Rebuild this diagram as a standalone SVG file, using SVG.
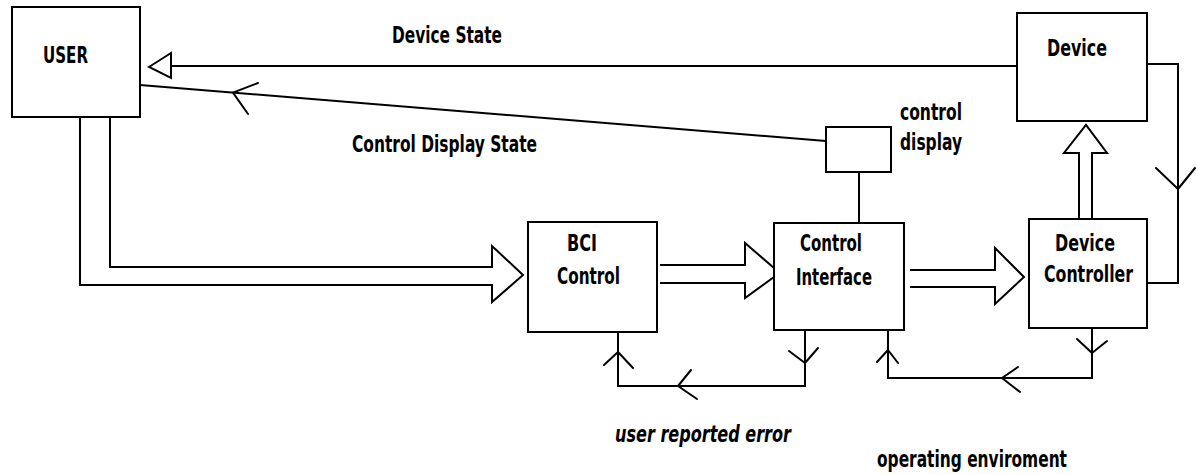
<svg xmlns="http://www.w3.org/2000/svg" width="1196" height="474" viewBox="0 0 1196 474">
<style>
.box{fill:#fff;stroke:#000;stroke-width:2}
.ln{fill:none;stroke:#000;stroke-width:2;stroke-linejoin:miter}
.hd{fill:none;stroke:#000;stroke-width:2;stroke-linecap:round;stroke-linejoin:round}
.t{font-family:"Liberation Sans Narrow","DejaVu Sans Condensed","Liberation Sans",sans-serif;font-weight:bold;font-size:23px;fill:#000}
.it{font-style:italic}
</style>
<rect width="1196" height="474" fill="#fff"/>
<g id="connectors">
  <!-- Device State -->
  <path class="ln" d="M1017,66 H171"/>
  <polygon points="149,67 171,53 171,78" fill="#fff" stroke="#000" stroke-width="2"/>
  <!-- Control Display State -->
  <path class="ln" d="M140,85 L826,141"/>
  <path class="hd" d="M258,83 L233,92.6 L248,114"/>
  <!-- Device to Device Controller feedback -->
  <path class="ln" d="M1147,64 H1178 V283 H1147"/>
  <path class="hd" d="M1156,168 L1178,189 L1195,168"/>
  <!-- control display to control interface -->
  <path class="ln" d="M859,172 V223"/>
  <!-- USER to BCI hollow arrow -->
  <path class="ln" d="M80,117 V285 H492 V302 L523,275 L492,246 V267 H110 V117"/>
  <!-- BCI to CI hollow arrow -->
  <path class="ln" d="M660,265 H745 V243 L774,268"/>
  <path class="ln" d="M660,283 H745 V298 L774,277"/>
  <!-- CI to DC hollow arrow -->
  <path class="ln" d="M910,270 H995 V248 L1024,277 L995,304 V287 H910"/>
  <!-- DC to Device hollow arrow -->
  <path class="ln" d="M1079,220 V153 H1064 L1086,125 L1107,153 H1092 V220"/>
  <!-- user reported error loop -->
  <path class="ln" d="M805,330 V386 H618 V331"/>
  <path class="hd" d="M789,351 L805,363 L818,348"/>
  <path class="hd" d="M691,370 L678,386 L697,399"/>
  <path class="hd" d="M604,365 L618,352 L633,368"/>
  <!-- operating environment loop -->
  <path class="ln" d="M1092,328 V378 H888 V330"/>
  <path class="hd" d="M1077,339 L1092,353 L1107,341"/>
  <path class="hd" d="M1018,367 L1002,378 L1020,392"/>
  <path class="hd" d="M877,362 L888,350 L898,363"/>
</g>
<g id="user">
  <rect class="box" x="12" y="7" width="128" height="110"/>
  <text class="t" x="43" y="63" textLength="45" lengthAdjust="spacingAndGlyphs">USER</text>
</g>
<g id="device">
  <rect class="box" x="1017" y="13" width="130" height="108"/>
  <text class="t" x="1047" y="56" textLength="60" lengthAdjust="spacingAndGlyphs">Device</text>
</g>
<g id="control-display">
  <rect class="box" x="826" y="127" width="65" height="45"/>
  <text class="t" x="900" y="120" textLength="62" lengthAdjust="spacingAndGlyphs">control</text>
  <text class="t" x="900" y="150" textLength="62" lengthAdjust="spacingAndGlyphs">display</text>
</g>
<g id="bci-control">
  <rect class="box" x="528" y="222" width="129" height="110"/>
  <text class="t" x="567" y="251" textLength="30" lengthAdjust="spacingAndGlyphs">BCI</text>
  <text class="t" x="557" y="284" textLength="63" lengthAdjust="spacingAndGlyphs">Control</text>
</g>
<g id="control-interface">
  <rect class="box" x="774" y="223" width="130" height="107"/>
  <text class="t" x="800" y="251" textLength="62" lengthAdjust="spacingAndGlyphs">Control</text>
  <text class="t" x="796" y="285" textLength="76" lengthAdjust="spacingAndGlyphs">Interface</text>
</g>
<g id="device-controller">
  <rect class="box" x="1029" y="219" width="118" height="109"/>
  <text class="t" x="1055" y="251" textLength="60" lengthAdjust="spacingAndGlyphs">Device</text>
  <text class="t" x="1044" y="282" textLength="89" lengthAdjust="spacingAndGlyphs">Controller</text>
</g>
<g id="labels">
  <text class="t" x="392" y="43" textLength="110" lengthAdjust="spacingAndGlyphs">Device State</text>
  <text class="t" x="352" y="152" textLength="185" lengthAdjust="spacingAndGlyphs">Control Display State</text>
  <text class="t it" x="615" y="442" textLength="176" lengthAdjust="spacingAndGlyphs">user reported error</text>
  <text class="t" x="877" y="467" textLength="190" lengthAdjust="spacingAndGlyphs">operating enviroment</text>
</g>
</svg>
